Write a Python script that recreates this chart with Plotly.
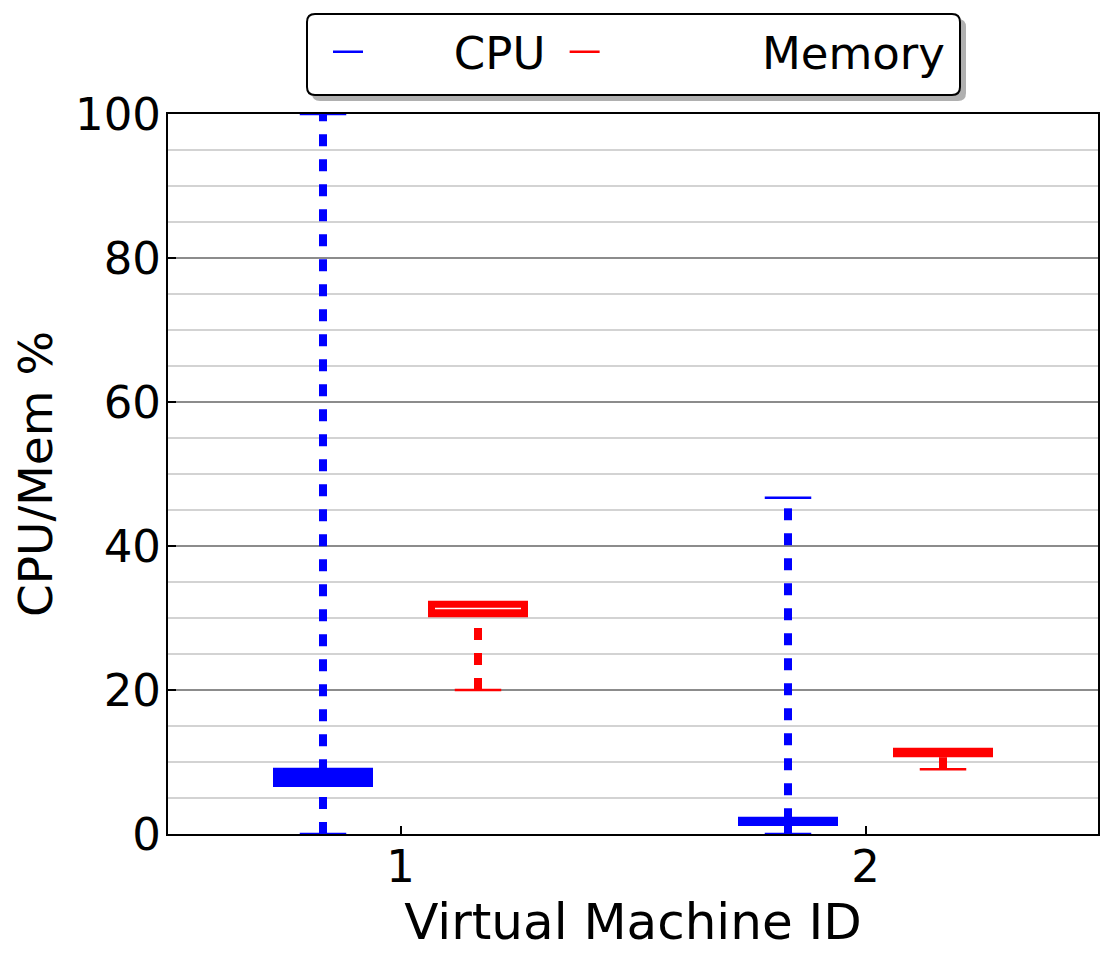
import plotly.graph_objects as go

# ---- data ----
vm_ids = [1, 2]
tick_labels = ["1", "2"]

cpu_q1 = [7.0, 1.6]
cpu_median = [7.8, 1.75]
cpu_q3 = [8.7, 1.9]
cpu_low = [0.0, 0.0]
cpu_high = [100.0, 46.7]

mem_q1 = [30.6, 11.15]
mem_median = [30.6, 11.3]
mem_q3 = [31.9, 11.5]
mem_low = [20.0, 9.0]
mem_high = [31.9, 11.5]

# ---- style ----
FONT = "DejaVu Sans"
OFFSET = 1.0 / 6.0
BOX_W = 0.2
CAP_HALF = 0.05
LW_BOX = 7
LW_WHISK = 8

# layout geometry (pixels)
W, H = 1114, 966
ML, MR, MT, MB = 168, 16, 114, 132
PW = W - ML - MR
PH = H - MT - MB


def px_x(x):
    return (x - ML) / PW


def px_y(y):
    return 1 + (MT - y) / PH


def rounded_rect(x0, y0, x1, y1, r):
    # pixel coords -> paper-coord SVG path with rounded corners
    rx, ry = r / PW, r / PH
    X0, X1 = px_x(x0), px_x(x1)
    Y0, Y1 = px_y(y0), px_y(y1)  # Y0 top, Y1 bottom
    return (f"M{X0 + rx},{Y0} L{X1 - rx},{Y0} Q{X1},{Y0} {X1},{Y0 - ry} "
            f"L{X1},{Y1 + ry} Q{X1},{Y1} {X1 - rx},{Y1} "
            f"L{X0 + rx},{Y1} Q{X0},{Y1} {X0},{Y1 + ry} "
            f"L{X0},{Y0 - ry} Q{X0},{Y0} {X0 + rx},{Y0} Z")


fig = go.Figure()


def add_series(name, color, sign, q1, med, q3, low, high):
    pos = [v + sign * OFFSET for v in vm_ids]
    fig.add_trace(go.Box(
        x=pos, q1=q1, median=med, q3=q3, lowerfence=q1, upperfence=q3,
        width=BOX_W, whiskerwidth=0, boxpoints=False,
        line=dict(color=color, width=LW_BOX), fillcolor="white",
        showlegend=False, hoverinfo="skip",
    ))
    wx, wy = [], []
    for p, a, b, c, d in zip(pos, low, q1, q3, high):
        wx += [p, p, None, p, p, None]
        wy += [a, b, None, c, d, None]
    fig.add_trace(go.Scatter(
        x=wx, y=wy, mode="lines", showlegend=False, hoverinfo="skip",
        line=dict(color=color, width=LW_WHISK, dash="12px,13px"),
    ))
    cx, cy = [], []
    for p, a, d in zip(pos, low, high):
        cx += [p - CAP_HALF, p + CAP_HALF, None, p - CAP_HALF, p + CAP_HALF, None]
        cy += [a, a, None, d, d, None]
    fig.add_trace(go.Scatter(
        x=cx, y=cy, mode="lines", showlegend=False, hoverinfo="skip",
        line=dict(color=color, width=2.5),
    ))
    # legend entry
    fig.add_trace(go.Scatter(
        x=[None], y=[None], mode="lines", name=name,
        line=dict(color=color, width=2.5),
    ))


pad = "\u00a0"
add_series(pad * 6 + "CPU" + pad * 1, "#0000ff", -1, cpu_q1, cpu_median, cpu_q3, cpu_low, cpu_high)
add_series(pad * 11 + "Memory", "#ff0000", 1, mem_q1, mem_median, mem_q3, mem_low, mem_high)

# legend frame: shadow + rounded white box with black border
fig.add_shape(type="path", xref="paper", yref="paper",
              path=rounded_rect(312, 19, 966, 101, 8),
              fillcolor="#b0b0b0", line=dict(width=0), layer="above")
fig.add_shape(type="path", xref="paper", yref="paper",
              path=rounded_rect(307, 14, 960, 95, 8),
              fillcolor="white", line=dict(color="black", width=2), layer="above")

fig.update_layout(
    width=W, height=H,
    margin=dict(l=ML, r=MR, t=MT, b=MB),
    paper_bgcolor="white", plot_bgcolor="white",
    font=dict(family=FONT, size=45, color="black"),
    showlegend=True,
    legend=dict(
        orientation="h", x=px_x(328), xanchor="left", y=px_y(16), yanchor="top",
        bgcolor="rgba(0,0,0,0)", borderwidth=0,
        font=dict(family=FONT, size=45, color="black"),
    ),
    xaxis=dict(
        range=[0.5, 2.5], tickmode="array", tickvals=vm_ids, ticktext=tick_labels,
        showgrid=False, zeroline=False,
        showline=True, linecolor="black", linewidth=2, mirror=True,
        ticks="inside", ticklen=8, tickwidth=1.5, tickcolor="black",
        tickfont=dict(size=45), ticklabelstandoff=-8,
        title=dict(text="Virtual Machine ID", font=dict(size=50), standoff=4),
    ),
    yaxis=dict(
        range=[0, 100], tickmode="array", tickvals=[0, 20, 40, 60, 80, 100],
        showgrid=True, gridcolor="#8c8c8c", gridwidth=2, zeroline=False,
        minor=dict(dtick=5, showgrid=True, gridcolor="#d3d3d3", gridwidth=2),
        showline=True, linecolor="black", linewidth=2, mirror=True,
        ticks="inside", ticklen=8, tickwidth=1.5, tickcolor="black",
        tickfont=dict(size=45), ticklabelstandoff=-4,
        title=dict(text="CPU/Mem %", font=dict(size=47), standoff=8),
    ),
)

fig.write_html("out.html")
